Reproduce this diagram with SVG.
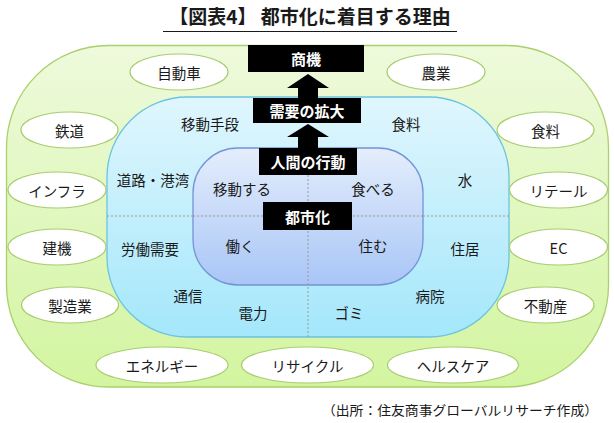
<svg xmlns="http://www.w3.org/2000/svg" width="614" height="423" viewBox="0 0 614 423">
  <defs>
    <linearGradient id="gGreen" x1="0" y1="0" x2="0" y2="1">
      <stop offset="0" stop-color="#eefadc"/>
      <stop offset="1" stop-color="#d3f5a0"/>
    </linearGradient>
    <linearGradient id="gBlue" x1="0" y1="0" x2="0" y2="1">
      <stop offset="0" stop-color="#e0f6fd"/>
      <stop offset="1" stop-color="#a4e7fb"/>
    </linearGradient>
    <linearGradient id="gInner" x1="0" y1="0" x2="0" y2="1">
      <stop offset="0" stop-color="#e6edfc"/>
      <stop offset="1" stop-color="#a8c2f6"/>
    </linearGradient>
    <style>
      text { font-family: "Noto Sans CJK JP", "Noto Sans CJK SC", "Liberation Sans", sans-serif; fill: #1a1a1a; }
      .lbl { font-size: 14.5px; text-anchor: middle; dominant-baseline: central; }
      .box { fill: #000000; }
      .boxt { font-size: 15px; font-weight: bold; fill: #ffffff; text-anchor: middle; dominant-baseline: central; }
      .ell { fill: #ffffff; stroke: #a8cc70; stroke-width: 1.2; }
      .div { stroke: #9a9a9a; stroke-width: 1; stroke-dasharray: 2 2; fill: none; }
      .arr { fill: #000000; }
    </style>
  </defs>
  <rect width="614" height="423" fill="#ffffff"/>

  <g id="title">
    <text x="310" y="24" font-size="19" font-weight="bold" text-anchor="middle">【図表4】 都市化に着目する理由</text>
    <line x1="163" y1="31.5" x2="457" y2="31.5" stroke="#1a1a1a" stroke-width="1.2"/>
  </g>

  <g id="layer-outer">
    <rect x="6.5" y="45.5" width="602" height="341.5" rx="102" ry="102" fill="url(#gGreen)" stroke="#a9d06c" stroke-width="1.3"/>
  </g>
  <g id="layer-middle">
    <rect x="107" y="97" width="402" height="240" rx="80" ry="80" fill="url(#gBlue)" stroke="#6cc4e0" stroke-width="1.3"/>
  </g>
  <g id="dividers">
    <line class="div" x1="107" y1="216" x2="509" y2="216"/>
  </g>
  <g id="layer-inner">
    <rect x="193" y="148" width="230" height="137" rx="45" ry="45" fill="url(#gInner)" fill-opacity="0.9" stroke="#7394d6" stroke-width="1.3"/>
  </g>
  <g id="dividers-2">
    <line class="div" x1="193" y1="216" x2="423" y2="216"/>
    <line class="div" x1="308" y1="175" x2="308" y2="337"/>
  </g>

  <g id="connectors">
    <polygon class="arr" points="298,98 318,98 318,88 329,88 308,74 287,88 298,88"/>
    <polygon class="arr" points="298,148 318,148 318,137 329,137 308,124 287,137 298,137"/>
  </g>

  <g id="node-shoki">
    <rect class="box" x="248" y="45" width="116" height="27"/>
    <text class="boxt" x="306" y="58.5">商機</text>
  </g>
  <g id="node-juyo">
    <rect class="box" x="253" y="98" width="108" height="25"/>
    <text class="boxt" x="307" y="110.5">需要の拡大</text>
  </g>
  <g id="node-ningen">
    <rect class="box" x="259" y="148" width="98" height="27"/>
    <text class="boxt" x="308" y="161.5">人間の行動</text>
  </g>
  <g id="node-toshika">
    <rect class="box" x="263" y="202" width="89" height="28"/>
    <text class="boxt" x="307.5" y="216">都市化</text>
  </g>

  <g id="middle-labels">
    <text class="lbl" x="210" y="123">移動手段</text>
    <text class="lbl" x="406" y="123">食料</text>
    <text class="lbl" x="153" y="179">道路・港湾</text>
    <text class="lbl" x="465" y="179">水</text>
    <text class="lbl" x="150" y="248">労働需要</text>
    <text class="lbl" x="465" y="248">住居</text>
    <text class="lbl" x="188" y="295">通信</text>
    <text class="lbl" x="253" y="312">電力</text>
    <text class="lbl" x="349" y="312">ゴミ</text>
    <text class="lbl" x="430" y="295">病院</text>
  </g>
  <g id="inner-labels">
    <text class="lbl" x="242" y="188">移動する</text>
    <text class="lbl" x="373" y="188">食べる</text>
    <text class="lbl" x="240" y="245">働く</text>
    <text class="lbl" x="373" y="245">住む</text>
  </g>

  <g id="node-jidosha"><ellipse class="ell" cx="179" cy="72" rx="49" ry="18"/><text class="lbl" x="179" y="72">自動車</text></g>
  <g id="node-nogyo"><ellipse class="ell" cx="436" cy="72" rx="49" ry="18"/><text class="lbl" x="436" y="72">農業</text></g>
  <g id="node-tetsudo"><ellipse class="ell" cx="69.5" cy="130" rx="48.5" ry="18"/><text class="lbl" x="69.5" y="130">鉄道</text></g>
  <g id="node-shokuryo"><ellipse class="ell" cx="545.5" cy="130" rx="48.5" ry="18"/><text class="lbl" x="545.5" y="130">食料</text></g>
  <g id="node-infura"><ellipse class="ell" cx="57" cy="190" rx="49" ry="18"/><text class="lbl" x="57" y="190">インフラ</text></g>
  <g id="node-riteru"><ellipse class="ell" cx="558.5" cy="190" rx="49" ry="18"/><text class="lbl" x="558.5" y="190">リテール</text></g>
  <g id="node-kenki"><ellipse class="ell" cx="57" cy="247" rx="49" ry="18"/><text class="lbl" x="57" y="247">建機</text></g>
  <g id="node-ec"><ellipse class="ell" cx="558.5" cy="247" rx="49" ry="18"/><text class="lbl" x="558.5" y="247">EC</text></g>
  <g id="node-seizogyo"><ellipse class="ell" cx="70" cy="305" rx="48.5" ry="18"/><text class="lbl" x="70" y="305">製造業</text></g>
  <g id="node-fudosan"><ellipse class="ell" cx="545.5" cy="305" rx="48.5" ry="18"/><text class="lbl" x="545.5" y="305">不動産</text></g>
  <g id="node-energy"><ellipse class="ell" cx="162" cy="365" rx="66" ry="18"/><text class="lbl" x="162" y="365">エネルギー</text></g>
  <g id="node-recycle"><ellipse class="ell" cx="307.5" cy="365" rx="66" ry="18"/><text class="lbl" x="307.5" y="365">リサイクル</text></g>
  <g id="node-healthcare"><ellipse class="ell" cx="453" cy="365" rx="65.5" ry="18"/><text class="lbl" x="453" y="365">ヘルスケア</text></g>

  <g id="footer">
    <text x="598" y="415" font-size="13" text-anchor="end" textLength="276" lengthAdjust="spacingAndGlyphs">（出所：住友商事グローバルリサーチ作成）</text>
  </g>
</svg>
